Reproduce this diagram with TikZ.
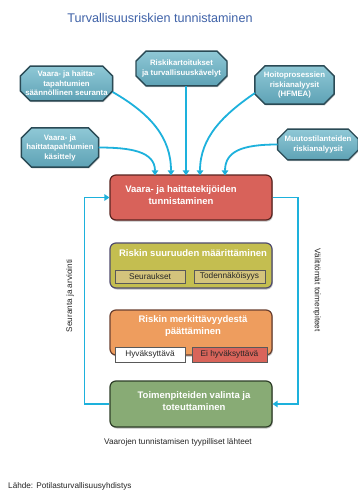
\documentclass[tikz,border=0pt]{standalone}
\usepackage{fontspec}
\setmainfont{Liberation Sans}
\usetikzlibrary{shapes.misc,arrows.meta,shadows}
\definecolor{titleblue}{HTML}{3F62A8}
\definecolor{conncol}{HTML}{1DB1DC}
\definecolor{tealtop}{HTML}{8FC8D6}
\definecolor{tealbot}{HTML}{5EA2B5}
\definecolor{tealedge}{HTML}{2A4A55}
\definecolor{redfill}{HTML}{D8625A}
\definecolor{rededge}{HTML}{5A2420}
\definecolor{yelfill}{HTML}{C4BE50}
\definecolor{yeledge}{HTML}{4F4B6E}
\definecolor{orafill}{HTML}{EE9D5E}
\definecolor{oraedge}{HTML}{6A4030}
\definecolor{grnfill}{HTML}{88AB75}
\definecolor{grnedge}{HTML}{2E3E28}
\definecolor{tanfill}{HTML}{D4C47C}
\definecolor{eifill}{HTML}{D9645A}
\begin{document}
\begin{tikzpicture}[x=1pt,y=-1pt,
  srcbox/.style={chamfered rectangle, chamfered rectangle xsep=5pt, chamfered rectangle ysep=5pt,
    inner sep=0pt, outer sep=0pt, top color=tealtop, bottom color=tealbot, draw=tealedge, line width=1.4pt,
    drop shadow={shadow xshift=0.8pt,shadow yshift=-1.2pt,opacity=0.45},
    text=white, font=\bfseries\fontsize{7.8}{9.5}\selectfont, align=center},
  stagebox/.style={rounded corners=6pt, inner sep=0pt, line width=1.2pt,
    drop shadow={shadow xshift=0.8pt,shadow yshift=-1.5pt,opacity=0.5}},
  stagetext/.style={text=white, font=\bfseries\fontsize{9.5}{12}\selectfont, align=center, inner sep=0pt},
  subbox/.style={draw=black!65, line width=0.5pt, inner sep=0pt,
    font=\fontsize{8.3}{9}\selectfont, text=black!85},
  conn/.style={draw=conncol, line width=1.8pt, -{Triangle[width=6.5pt,length=5pt]}},
  loopline/.style={draw=conncol, line width=1.8pt, -{Triangle[width=6.5pt,length=5pt]}},
  plain/.style={inner sep=0pt, font=\fontsize{8.2}{10}\selectfont, text=black!85}
]
\clip (0,0) rectangle (358,490);
\fill[white] (0,0) rectangle (358,490);

\node[inner sep=0pt, text=titleblue, font=\fontsize{12.6}{15}\selectfont] (title) at (160,18) {Turvallisuusriskien tunnistaminen};

% source boxes
\node[srcbox] (A) at (66.5,83.5) {Vaara- ja haitta-\\tapahtumien\\säännöllinen seuranta};
\node[srcbox, inner ysep=4pt, inner xsep=1pt] (B) at (181.5,68.5) {Riskikartoitukset\\ja turvallisuuskävelyt};
\node[srcbox, inner xsep=4pt, inner ysep=1pt] (C) at (294.5,85) {Hoitoprosessien\\riskianalyysit\\(HFMEA)};
\node[srcbox, inner ysep=1.5pt] (D) at (60,147.5) {Vaara- ja\\haittatapahtumien\\käsittely};
\node[srcbox, inner ysep=2pt, inner xsep=2pt] (E) at (318,144.5) {Muutostilanteiden\\riskianalyysit};

% stage boxes
\node[stagebox, fill=redfill, draw=rededge, minimum width=162pt, minimum height=45pt] (R) at (191,197.5) {};
\node[stagetext] (Rt) at (181,195) {Vaara- ja haittatekijöiden\\tunnistaminen};

\node[stagebox, fill=yelfill, draw=yeledge, minimum width=162pt, minimum height=45pt] (Y) at (191,265.5) {};
\node[stagetext] (Yt) at (193,253) {Riskin suuruuden määrittäminen};
\node[subbox, fill=tanfill, minimum width=70pt, minimum height=13pt] (seur) at (150,276.5) {Seuraukset};
\node[subbox, fill=tanfill, minimum width=71pt, minimum height=13pt] (tod) at (229.5,276.5) {Todennäköisyys};

\node[stagebox, fill=orafill, draw=oraedge, minimum width=162pt, minimum height=45pt] (O) at (191,332.5) {};
\node[stagetext] (Ot) at (193,326) {Riskin merkittävyydestä\\päättäminen};
\node[subbox, fill=white, minimum width=70pt, minimum height=15pt] (hyv) at (150,354.5) {Hyväksyttävä};
\node[subbox, fill=eifill, minimum width=75pt, minimum height=15pt] (ei) at (229.5,354.5) {Ei hyväksyttävä};

\node[stagebox, fill=grnfill, draw=grnedge, minimum width=162pt, minimum height=46pt] (G) at (191,404) {};
\node[stagetext] (Gt) at (194,401) {Toimenpiteiden valinta ja\\toteuttaminen};

% connectors from sources
\draw[conn] (D.east) .. controls +(32,0) and +(0,-24) .. ([xshift=-36pt,yshift=-1pt]R.north);
\draw[conn] ([yshift=-8.5pt]A.east) .. controls +(38,22) and +(0,-38) .. ([xshift=-20pt,yshift=-1pt]R.north);
\draw[conn] ([xshift=4.5pt]B.south) -- ([xshift=-5pt,yshift=-1pt]R.north);
\draw[conn] ([yshift=-8pt]C.west) .. controls +(-32,22) and +(0,-38) .. ([xshift=9pt,yshift=-1pt]R.north);
\draw[conn] (E.west) .. controls +(-36,0) and +(0,-24) .. ([xshift=34pt,yshift=-1pt]R.north);

% feedback loops
\draw[loopline] (G.west) -- ++(-25,0) |- (R.west);
\draw[loopline] (R.east) -- ++(25,0) |- (G.east);

\node[plain, rotate=90] (seuranta) at (70,296) {Seuranta ja arviointi};
\node[plain, rotate=-90] (valit) at (317,290) {Välittömät toimenpiteet};

\node[plain] (caption) at (178,442) {Vaarojen tunnistamisen tyypilliset lähteet};
\node[plain, anchor=west] (source) at (8,486) {Lähde: Potilasturvallisuusyhdistys};
\end{tikzpicture}
\end{document}
